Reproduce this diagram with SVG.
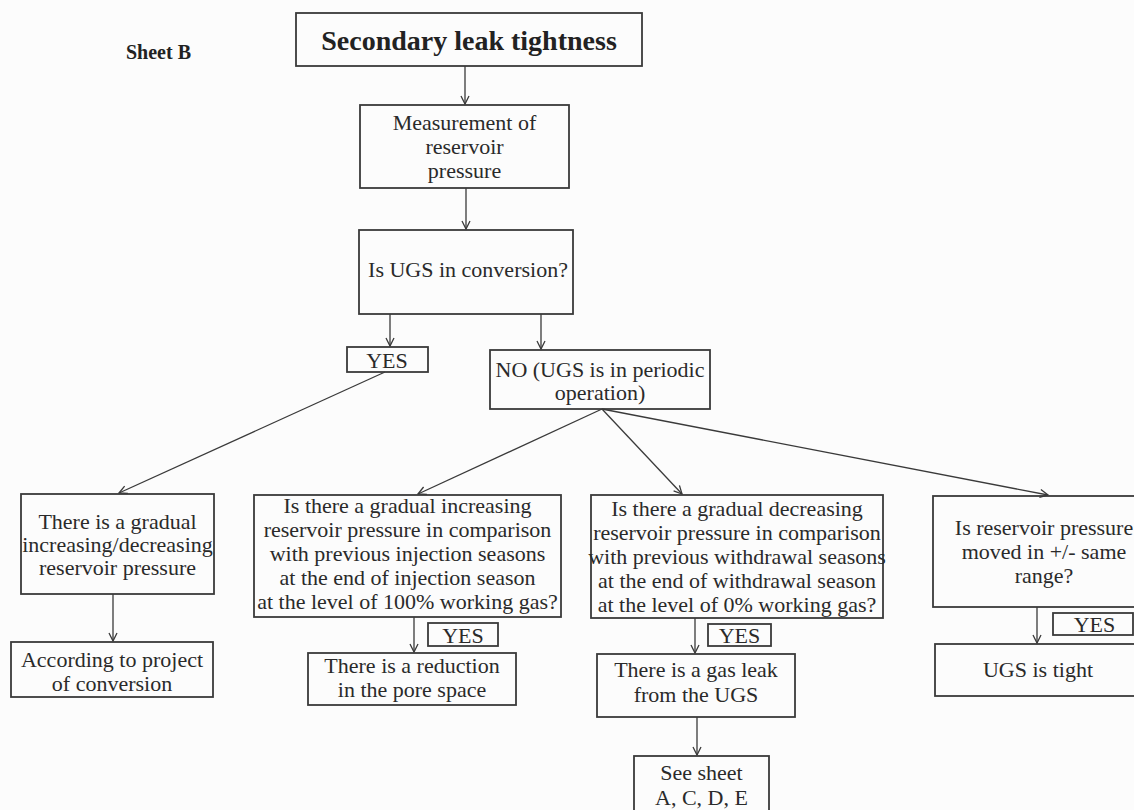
<svg xmlns="http://www.w3.org/2000/svg" width="1134" height="810" viewBox="0 0 1134 810">
<style>
.bx{fill:none;stroke:#3a3a3a;stroke-width:1.8}
.t{font-family:"Liberation Serif","Times New Roman",serif;font-size:22px;fill:#2a2a2a;text-anchor:middle}
.ttl{font-family:"Liberation Serif","Times New Roman",serif;font-size:28px;font-weight:bold;fill:#222;text-anchor:middle}
.sh{font-family:"Liberation Serif","Times New Roman",serif;font-size:20px;font-weight:bold;fill:#222}
.c{fill:none;stroke:#3a3a3a;stroke-width:1.3;marker-end:url(#ah)}
</style>
<defs>
<marker id="ah" viewBox="-10 -6 12 12" refX="0" refY="0" markerWidth="12" markerHeight="12" markerUnits="userSpaceOnUse" orient="auto">
<path d="M-8,-4 L0,0 L-8,4" fill="none" stroke="#3a3a3a" stroke-width="1.3"/>
</marker>
</defs>
<rect width="1134" height="810" fill="#fcfcfc"/>
<text class="sh" x="126" y="59">Sheet B</text>
<g id="connectors">
<line class="c" x1="465" y1="66" x2="465" y2="104"/>
<line class="c" x1="466" y1="188" x2="466" y2="229"/>
<line class="c" x1="390" y1="314" x2="390" y2="346"/>
<line class="c" x1="541" y1="314" x2="541" y2="349"/>
<line class="c" x1="385" y1="372" x2="119" y2="493"/>
<line class="c" x1="602" y1="409" x2="418" y2="494"/>
<line class="c" x1="602" y1="409" x2="682" y2="494"/>
<line class="c" x1="602" y1="409" x2="1048" y2="495"/>
<line class="c" x1="113" y1="594" x2="113" y2="641"/>
<line class="c" x1="414" y1="617" x2="414" y2="652"/>
<line class="c" x1="695" y1="618" x2="695" y2="653"/>
<line class="c" x1="697" y1="717" x2="697" y2="755"/>
<line class="c" x1="1037" y1="607" x2="1037" y2="643"/>
</g>
<g id="title">
<rect class="bx" x="296" y="13" width="346" height="53"/>
<text class="ttl" x="469" y="50">Secondary leak tightness</text>
</g>
<g id="measurement">
<rect class="bx" x="360" y="105" width="209" height="83"/>
<text class="t" x="464.5" y="130">Measurement of</text>
<text class="t" x="464.5" y="154">reservoir</text>
<text class="t" x="464.5" y="178">pressure</text>
</g>
<g id="conversion">
<rect class="bx" x="359" y="230" width="214" height="84"/>
<text class="t" x="468" y="277">Is UGS in conversion?</text>
</g>
<g id="yes1">
<rect class="bx" x="347" y="347" width="81" height="25"/>
<text class="t" x="387" y="368">YES</text>
</g>
<g id="no1">
<rect class="bx" x="490" y="350" width="220" height="59"/>
<text class="t" x="600" y="377">NO (UGS is in periodic</text>
<text class="t" x="600" y="400">operation)</text>
</g>
<g id="gradual">
<rect class="bx" x="21" y="494" width="193" height="100"/>
<text class="t" x="117.5" y="529">There is a gradual</text>
<text class="t" x="117.5" y="552">increasing/decreasing</text>
<text class="t" x="117.5" y="575">reservoir pressure</text>
</g>
<g id="project">
<rect class="bx" x="11" y="642" width="202" height="55"/>
<text class="t" x="112" y="667">According to project</text>
<text class="t" x="112" y="691">of conversion</text>
</g>
<g id="increasing">
<rect class="bx" x="254" y="495" width="307" height="122"/>
<text class="t" x="407.5" y="513">Is there a gradual increasing</text>
<text class="t" x="407.5" y="537">reservoir pressure in comparison</text>
<text class="t" x="407.5" y="561">with previous injection seasons</text>
<text class="t" x="407.5" y="585">at the end of injection season</text>
<text class="t" x="407.5" y="609">at the level of 100% working gas?</text>
</g>
<g id="yes2">
<rect class="bx" x="428" y="623" width="70" height="23"/>
<text class="t" x="463" y="643">YES</text>
</g>
<g id="reduction">
<rect class="bx" x="308" y="653" width="208" height="52"/>
<text class="t" x="412" y="673">There is a reduction</text>
<text class="t" x="412" y="697">in the pore space</text>
</g>
<g id="decreasing">
<rect class="bx" x="591" y="495" width="292" height="123"/>
<text class="t" x="737" y="516">Is there a gradual decreasing</text>
<text class="t" x="737" y="540">reservoir pressure in comparison</text>
<text class="t" x="737" y="564">with previous withdrawal seasons</text>
<text class="t" x="737" y="588">at the end of withdrawal season</text>
<text class="t" x="737" y="612">at the level of 0% working gas?</text>
</g>
<g id="yes3">
<rect class="bx" x="708" y="624" width="63" height="22"/>
<text class="t" x="739.5" y="643">YES</text>
</g>
<g id="leak">
<rect class="bx" x="597" y="654" width="198" height="63"/>
<text class="t" x="696" y="677">There is a gas leak</text>
<text class="t" x="696" y="702">from the UGS</text>
</g>
<g id="seesheet">
<rect class="bx" x="634" y="756" width="135" height="70"/>
<text class="t" x="701.5" y="780">See sheet</text>
<text class="t" x="701.5" y="805">A, C, D, E</text>
</g>
<g id="range">
<rect class="bx" x="933" y="496" width="222" height="111"/>
<text class="t" x="1044" y="535">Is reservoir pressure</text>
<text class="t" x="1044" y="559">moved in +/- same</text>
<text class="t" x="1044" y="583">range?</text>
</g>
<g id="yes4">
<rect class="bx" x="1053" y="613" width="80" height="22"/>
<text class="t" x="1094.5" y="632">YES</text>
</g>
<g id="tight">
<rect class="bx" x="935" y="644" width="206" height="52"/>
<text class="t" x="1038" y="677">UGS is tight</text>
</g>
</svg>
